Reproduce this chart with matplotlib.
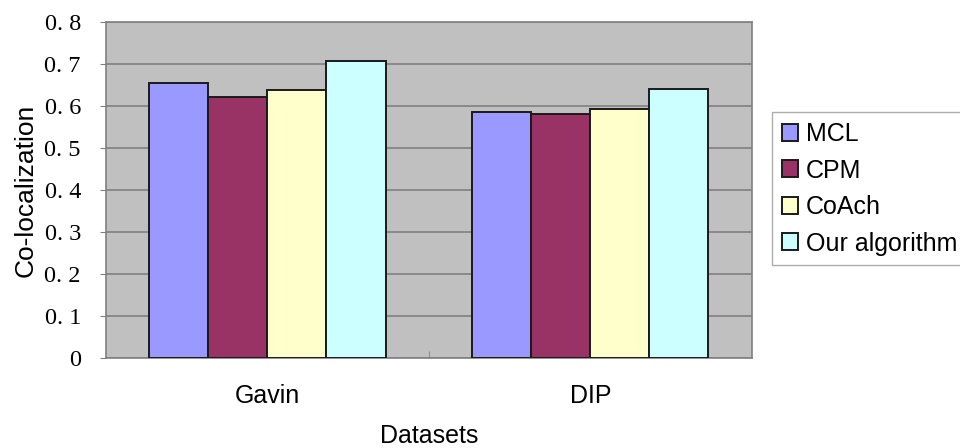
import numpy as np
import matplotlib.pyplot as plt

datasets = ["Gavin", "DIP"]
methods = ["MCL", "CPM", "CoAch", "Our algorithm"]
mcl = [0.654, 0.586]
cpm = [0.622, 0.582]
coach = [0.638, 0.594]
ours = [0.708, 0.641]
colors = ["#9999ff", "#993366", "#ffffcc", "#ccffff"]

series = [mcl, cpm, coach, ours]

fig = plt.figure(figsize=(9.6, 4.48), dpi=100)
ax = fig.add_axes([0.1104, 0.2009, 0.6729, 0.7500])
ax.set_facecolor("#c0c0c0")

x = np.arange(len(datasets))
w = 0.1827
for i, vals in enumerate(series):
    ax.bar(x + (i - 1.5) * w, vals, w, color=colors[i], edgecolor="#1a1a1a",
           linewidth=1.4, label=methods[i], zorder=3)

ax.set_xlim(-0.5, 1.5)
ax.set_ylim(0, 0.8)
yt = np.arange(0, 0.81, 0.1)
ax.set_yticks(yt)
ax.set_yticklabels(["0"] + ["0. %d" % round(v * 10) for v in yt[1:]],
                   fontfamily="Liberation Serif", fontsize=17.5)
ax.yaxis.grid(True, color="#808080", linewidth=1.2, zorder=0)
ax.set_xticks(x)
ax.set_xticklabels(datasets, fontfamily="Liberation Sans", fontsize=18)
ax.set_xticks([0.5], minor=True)
ax.tick_params(axis="x", which="major", length=0, pad=19)
ax.tick_params(axis="x", which="minor", length=5, color="#808080", direction="in")
ax.tick_params(axis="y", length=4, color="#808080", pad=14)
for s in ax.spines.values():
    s.set_color("#808080")
    s.set_linewidth(1.2)

ax.set_xlabel("Datasets", fontfamily="Liberation Sans", fontsize=18, labelpad=11)
ax.set_ylabel("Co-localization", fontfamily="Liberation Sans", fontsize=19, labelpad=5)

leg = fig.legend(loc="upper left", bbox_to_anchor=(772 / 960, 1 - 112 / 448), frameon=True,
                 fancybox=False, edgecolor="#999999",
                 prop={"family": "Liberation Sans", "size": 18},
                 handlelength=0.65, handleheight=0.65, handletextpad=0.3,
                 labelspacing=0.5, borderpad=0.4, borderaxespad=0)
leg.get_frame().set_linewidth(1.0)

plt.savefig("out.png", dpi=100)
